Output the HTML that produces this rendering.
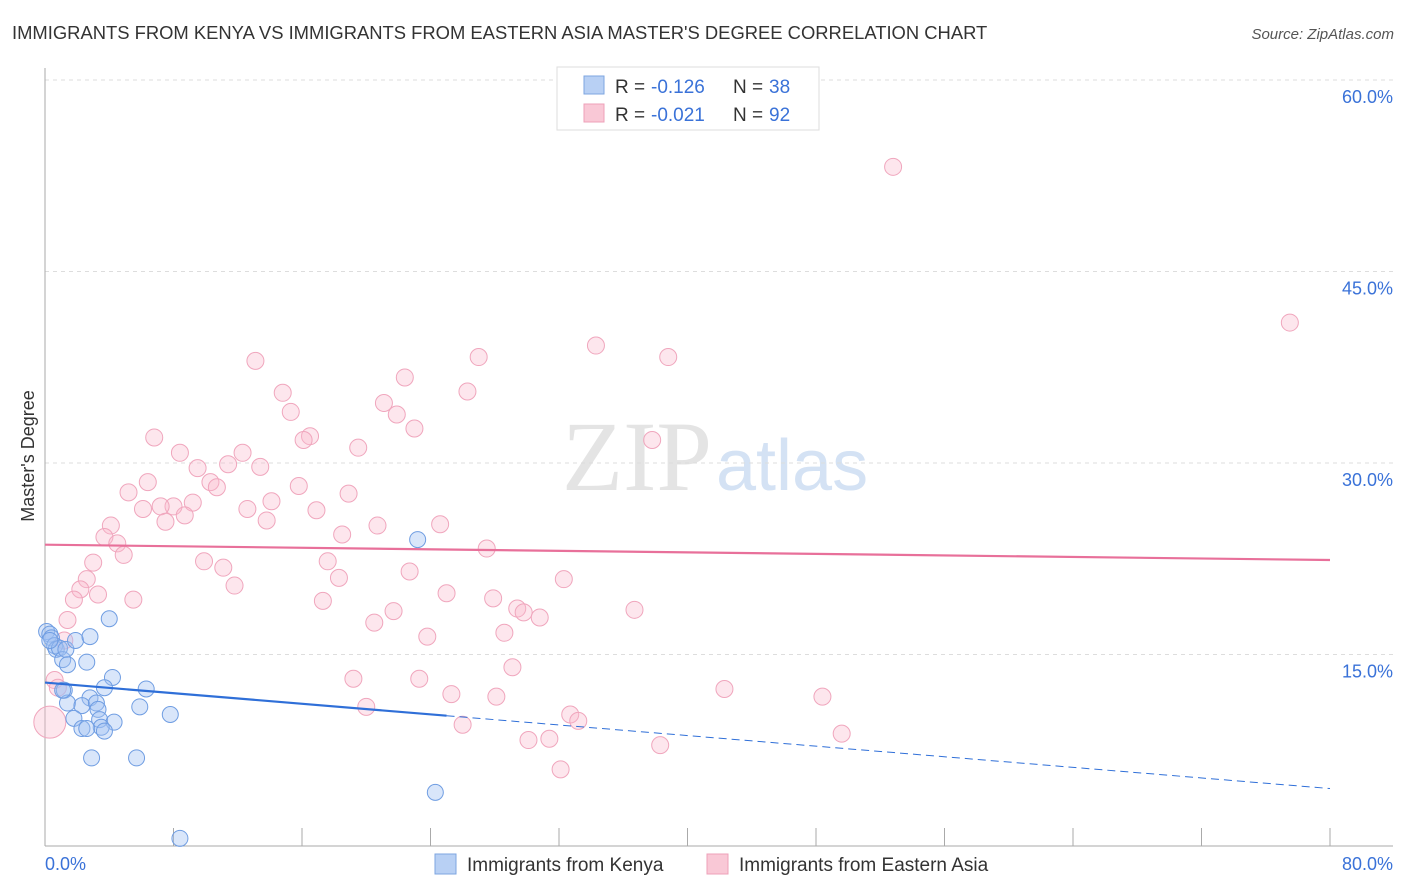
<!DOCTYPE html>
<html><head><meta charset="utf-8"><style>
body{margin:0;background:#fff;font-family:"Liberation Sans",sans-serif;}
#wrap{position:relative;width:1406px;height:892px;overflow:hidden;}
</style></head><body>
<div id="wrap">
<svg id="svg" width="1406" height="892" xmlns="http://www.w3.org/2000/svg">
<text x="12" y="39" font-size="18.4" fill="#333">IMMIGRANTS FROM KENYA VS IMMIGRANTS FROM EASTERN ASIA MASTER'S DEGREE CORRELATION CHART</text>
<text x="1394" y="39" font-size="15" fill="#555" font-style="italic" text-anchor="end">Source: ZipAtlas.com</text>
<text x="712" y="490" font-size="100" fill="#e4e4e4" text-anchor="end" font-family="Liberation Serif">ZIP</text>
<text x="716" y="490" font-size="72" fill="#d4e2f4">atlas</text>
<text transform="translate(34,456) rotate(-90)" font-size="18" fill="#333" text-anchor="middle">Master's Degree</text>
<g id="grid"></g><g id="pts"></g><g id="trend"></g>
<g>
<rect x="557" y="67" width="262" height="63" fill="#fff" stroke="#ddd"/>
<rect x="584" y="76" width="20" height="18" fill="#b8d0f4" stroke="#7ea6e0"/>
<rect x="584" y="104" width="20" height="18" fill="#f9c8d6" stroke="#eea0b8"/>
<g font-size="19" fill="#333">
<text x="615" y="93">R =</text><text x="651" y="93" fill="#3a72d8">-0.126</text><text x="733" y="93">N =</text><text x="769" y="93" fill="#3a72d8">38</text></g>
<g font-size="19" fill="#333">
<text x="615" y="121">R =</text><text x="651" y="121" fill="#3a72d8">-0.021</text><text x="733" y="121">N =</text><text x="769" y="121" fill="#3a72d8">92</text></g>
</g>
<g>
<rect x="435" y="854" width="21" height="20" fill="#b8d0f4" stroke="#7ea6e0"/>
<text x="467" y="871" font-size="19" fill="#333">Immigrants from Kenya</text>
<rect x="707" y="854" width="21" height="20" fill="#f9c8d6" stroke="#eea0b8"/>
<text x="739" y="871" font-size="19" fill="#333">Immigrants from Eastern Asia</text>
</g>
<text x="45" y="870" font-size="18" fill="#3a72d8">0.0%</text>
<text x="1393" y="870" font-size="18" fill="#3a72d8" text-anchor="end">80.0%</text>
</svg>
<script>
const yTicks=[15,30,45,60];
const xTickVals=[0,8,16,24,32,40,48,56,64,72,80];
const kenyaX=[0.1,0.3,0.4,0.6,0.7,0.9,1.1,1.3,1.4,1.9,2.8,2.6,4.0,4.2,1.2,2.8,3.7,6.3,1.4,2.3,3.2,3.3,1.8,3.4,4.3,3.5,2.3,2.6,3.7,5.9,7.8,2.9,5.7,23.2,24.3,8.4,0.3,1.1];
const kenyaY=[16.8,16.6,16.3,15.7,15.4,15.5,14.6,15.4,14.2,16.1,16.4,14.4,17.8,13.2,12.2,11.6,12.4,12.3,11.2,11.0,11.2,10.7,10.0,9.9,9.7,9.3,9.2,9.2,9.0,10.9,10.3,6.9,6.9,24.0,4.2,0.6,16.1,12.2];
const asiaX=[52.8,77.5,34.3,38.8,27.0,13.1,22.4,14.8,26.3,21.1,21.9,15.3,23.0,6.8,16.5,16.1,37.8,19.5,8.4,12.3,9.5,11.4,13.4,10.3,10.7,6.4,5.2,15.8,18.9,14.1,8.0,9.2,7.2,8.7,6.1,12.6,16.9,7.5,13.8,4.1,20.7,24.6,18.5,3.7,4.5,4.9,27.5,9.9,3.0,17.6,11.1,22.7,2.6,18.3,32.3,2.2,11.8,3.3,1.8,25.0,5.5,17.3,27.9,29.4,36.7,21.7,29.8,30.8,1.4,20.5,23.8,28.6,29.1,19.2,23.3,42.3,48.4,25.3,28.1,20.0,32.7,33.2,26.0,49.6,30.1,31.4,38.3,32.1,0.3,0.6,1.2,0.8];
const asiaY=[53.2,41.0,39.2,38.3,38.3,38.0,36.7,35.5,35.6,34.7,33.8,34.0,32.7,32.0,32.1,31.8,31.8,31.2,30.8,30.8,29.6,29.9,29.7,28.5,28.1,28.5,27.7,28.2,27.6,27.0,26.6,26.9,26.6,25.9,26.4,26.4,26.3,25.4,25.5,25.1,25.1,25.2,24.4,24.2,23.7,22.8,23.3,22.3,22.2,22.3,21.8,21.5,20.9,21.0,20.9,20.1,20.4,19.7,19.3,19.8,19.3,19.2,19.4,18.6,18.5,18.4,18.3,17.9,17.7,17.5,16.4,16.7,14.0,13.1,13.1,12.3,11.7,11.9,11.7,10.9,10.3,9.8,9.5,8.8,8.3,8.4,7.9,6.0,9.7,13.0,16.1,12.4];
const kenyaTrend=[12.8,4.5]; const kenyaSolidEnd=25;
const asiaTrend=[23.6,22.4];
const NS="http://www.w3.org/2000/svg";
const X=v=>45+v/80*1285, Y=v=>846-v/15*191.5;
function mk(t,a,p){const e=document.createElementNS(NS,t);for(const k in a)e.setAttribute(k,a[k]);p.appendChild(e);return e;}
const grid=document.getElementById('grid');
for(const t of yTicks){
 const l=mk('line',{x1:45,x2:1393,y1:Y(t),y2:Y(t),stroke:'#ddd','stroke-dasharray':'4,4'},grid);
 
 
 const tx=mk('text',{x:1393,y:Y(t)+23,'font-size':18,fill:'#3a72d8','text-anchor':'end'},grid);
 tx.textContent=t.toFixed(1)+'%';
 
 
}
const ax=mk('line',{x1:45,x2:1393,y1:846,y2:846,stroke:'#aaa'},grid);


const ay=mk('line',{x1:45,x2:45,y1:68,y2:846,stroke:'#aaa'},grid);


for(const v of xTickVals){
 const t=mk('line',{x1:X(v),x2:X(v),y1:828,y2:846,stroke:'#aaa'},grid);
 
 
}
const pts=document.getElementById('pts');
asiaX.forEach((x,i)=>{
 const big=(i===88);
 const c=mk('circle',{cx:X(x),cy:Y(asiaY[i]),r:big?16:8.5,fill:'rgba(248,182,202,0.35)',stroke:'#f0a6bd','stroke-width':1},pts);
 
 
});
kenyaX.forEach((x,i)=>{
 const c=mk('circle',{cx:X(x),cy:Y(kenyaY[i]),r:8,fill:'rgba(160,192,242,0.4)',stroke:'#6f9de2','stroke-width':1},pts);
 
 
});
const tr=document.getElementById('trend');
const ky=x=>kenyaTrend[0]+(kenyaTrend[1]-kenyaTrend[0])*x/80;
const k1=mk('line',{x1:X(0),y1:Y(ky(0)),x2:X(kenyaSolidEnd),y2:Y(ky(kenyaSolidEnd)),stroke:'#2f6fd8','stroke-width':2.2},tr);


const k2=mk('line',{x1:X(kenyaSolidEnd),y1:Y(ky(kenyaSolidEnd)),x2:X(80),y2:Y(ky(80)),stroke:'#2f6fd8','stroke-width':1,'stroke-dasharray':'8,5'},tr);


const a1=mk('line',{x1:X(0),y1:Y(asiaTrend[0]),x2:X(80),y2:Y(asiaTrend[1]),stroke:'#e8709a','stroke-width':2.2},tr);


</script>
</div></body></html>
